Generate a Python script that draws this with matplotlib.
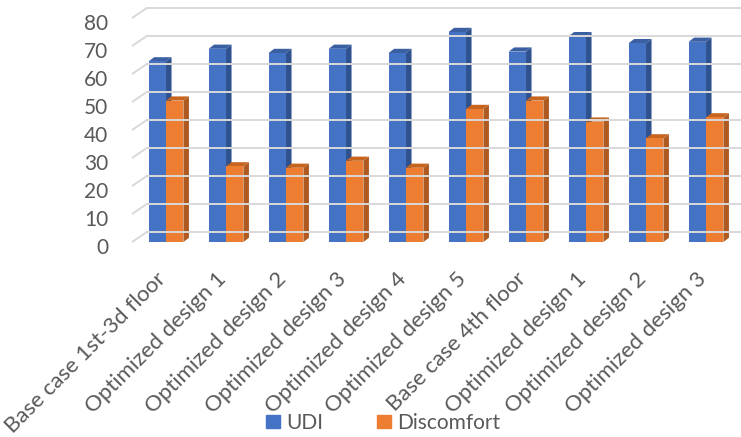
import matplotlib
matplotlib.use('Agg')

import matplotlib.pyplot as plt
from matplotlib.patches import Polygon, Patch
from matplotlib.transforms import ScaledTranslation

plt.rcParams['font.family'] = ['Lato', 'DejaVu Sans']

# ------------------ DATA ------------------

categories = [
    "Base case 1st-3d floor",
    "Optimized design 1",
    "Optimized design 2",
    "Optimized design 3",
    "Optimized design 4",
    "Optimized design 5",
    "Base case 4th floor",
    "Optimized design 1",
    "Optimized design 2",
    "Optimized design 3",
]
udi = [64.5, 69, 67.5, 69, 67.5, 75, 68, 73.5, 71, 71.5]
discomfort = [50.5, 27, 26.5, 29, 26.5, 47.5, 50.5, 43, 37, 44.5]
y_ticks = [0, 10, 20, 30, 40, 50, 60, 70, 80]

# ------------------ STYLE ------------------

BLUE, BLUE_SIDE, BLUE_TOP = '#4472C4', '#2F528F', '#3A5FA3'
ORANGE, ORANGE_SIDE, ORANGE_TOP = '#ED7D31', '#AE5A21', '#C7651F'
GRID = '#D9D9D9'
TEXT = '#595959'

BAR_W = 0.29
DX, DY = 0.092, 1.5        # depth of a bar (fake 3d)
WALL_DX, WALL_DY = 0.25, 3.6  # depth of the back wall
XMIN, XMAX = -0.567, 9.583
YMIN, YMAX = -1, 84


def draw_bar3d(ax, x, h, front, side, top):
    x0, x1 = x - BAR_W / 2, x + BAR_W / 2
    ax.add_patch(Polygon([(x1, 0), (x1 + DX, DY), (x1 + DX, h + DY), (x1, h)],
                         closed=True, facecolor=side, edgecolor='none'))
    ax.add_patch(Polygon([(x0, h), (x1, h), (x1 + DX, h + DY), (x0 + DX, h + DY)],
                         closed=True, facecolor=top, edgecolor='none'))
    ax.bar(x, h, BAR_W, color=front, linewidth=0)


def make_chart():
    fig = plt.figure(figsize=(7.41, 4.37), dpi=100)
    ax = fig.add_axes([132 / 741, (437 - 244.8) / 437, 609 / 741, 238 / 437])
    ax.set_xlim(XMIN, XMAX)
    ax.set_ylim(YMIN, YMAX)

    # back wall gridlines
    for v in y_ticks:
        ax.plot([XMIN, XMIN + WALL_DX], [v, v + WALL_DY], color=GRID, lw=1.4)
        ax.plot([XMIN + WALL_DX, XMAX], [v + WALL_DY, v + WALL_DY], color=GRID, lw=1.4)

    for i in range(len(categories)):
        draw_bar3d(ax, i - BAR_W / 2, udi[i], BLUE, BLUE_SIDE, BLUE_TOP)
        draw_bar3d(ax, i + BAR_W / 2, discomfort[i], ORANGE, ORANGE_SIDE, ORANGE_TOP)

    for s in ax.spines.values():
        s.set_visible(False)

    ax.set_yticks(y_ticks)
    ax.tick_params(axis='y', length=0, pad=17, labelsize=15, labelcolor=TEXT)
    shift = ScaledTranslation(0, -3.5 / 100, fig.dpi_scale_trans)
    for lab in ax.get_yticklabels():
        lab.set_transform(lab.get_transform() + shift)

    ax.set_xticks(range(len(categories)))
    ax.set_xticklabels(categories, rotation=45, ha='right', rotation_mode='anchor',
                       fontsize=16, color=TEXT)
    ax.tick_params(axis='x', length=0, pad=17)
    xshift = ScaledTranslation(-10 / 100, 0, fig.dpi_scale_trans)
    for lab in ax.get_xticklabels():
        lab.set_transform(lab.get_transform() + xshift)

    handles = [Patch(color=BLUE, label='UDI'), Patch(color=ORANGE, label='Discomfort')]
    fig.legend(handles=handles, loc='center', bbox_to_anchor=(383 / 741, 1 - 423 / 437),
               ncol=2, frameon=False, fontsize=15, handlelength=0.67, handleheight=0.63,
               handletextpad=0.3, columnspacing=2.6, labelcolor=TEXT)

    plt.savefig('out.png', dpi=100)
    plt.close()


if __name__ == '__main__':
    make_chart()
